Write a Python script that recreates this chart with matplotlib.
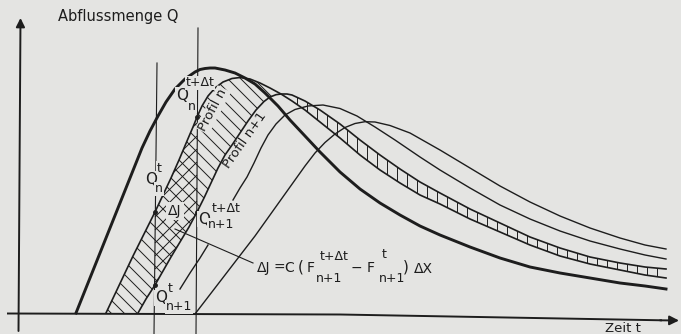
import numpy as np
import matplotlib
matplotlib.use("Agg")
import matplotlib.pyplot as plt
from matplotlib.patches import Polygon
from matplotlib.collections import LineCollection

# Wellenablauf zwischen Profilen: Ganglinien Q(t), Speicheraenderung dJ
# Zeit und Abfluss in Bildpunkten gemessen, Q = 0 auf der Zeitachse

# Profil n-1 (dicke Linie)
t_a = [76, 86, 96, 106, 116, 126, 134, 142, 150, 158, 166, 175, 185, 195, 200, 205, 210, 215, 225,
       235, 245, 255, 265, 278, 290, 305, 320, 340, 360, 380, 400, 420, 440, 470, 500, 530,
       560, 590, 620, 645, 666]
q_a = [1, 26, 51, 76, 101, 126, 146, 166, 183, 198, 212, 225, 235, 242, 244.5, 245.5, 246, 246,
       244, 241, 236, 230, 221, 208, 194, 178, 162, 142, 125, 111, 99, 88, 79, 67, 56, 47,
       41, 36, 31, 28, 25]

# Profil n
t_b = [106, 115, 124, 133, 142, 150, 155, 163, 171, 179, 187, 193, 197, 202, 208, 215, 223, 232,
       240, 250, 260, 270, 281, 292, 305, 320, 340, 360, 380, 400, 420, 440, 470, 500, 530,
       560, 590, 620, 645, 666]
q_b = [1, 20, 39, 58, 76, 92, 102, 119, 136, 154, 173, 187, 197, 208, 218, 226, 232, 235.5,
       236.5, 235, 231, 226, 220, 213, 204, 192, 176, 159, 144, 131, 119, 110, 95, 82, 69,
       58, 50, 44, 39, 36]

# Profil n+1
t_c = [138, 146, 155, 163, 171, 180, 189, 197, 204, 211, 218, 225, 232, 240, 248, 256, 264, 270,
       276, 281, 287, 292, 305, 320, 340, 360, 380, 400, 420, 440, 470, 500, 530, 560, 590,
       620, 645, 666]
q_c = [1, 15, 29, 43, 57, 72, 87, 102, 116, 131, 146, 159, 169, 181, 193, 204, 212.5, 217,
       219.3, 220, 220, 219, 213, 204, 190, 174, 159, 145, 132, 121, 105, 91, 77, 66, 57,
       51, 47, 45]

# Profil n+2
t_d = [165, 172, 180, 190, 200, 208, 216, 224, 233, 240, 247, 254, 261, 268, 276, 285, 295, 308,
       323, 340, 357, 375, 395, 420, 440, 470, 500, 530, 560, 590, 620, 645, 666]
q_d = [0, 12, 25, 41, 56, 69, 83, 98, 114, 126, 137, 151, 166, 179, 190, 199, 204.5, 208,
       209, 205.5, 198, 187, 174, 157, 144, 126, 109, 95, 83, 73, 65, 59, 55]

# Profil n+3
t_e = [195, 205, 215, 225, 235, 245, 255, 265, 275, 285, 295, 305, 315, 325, 335, 345, 355, 365,
       375, 390, 410, 440, 470, 500, 530, 560, 590, 620, 645, 666]
q_e = [0, 13, 26, 39, 52, 65, 78, 92, 106, 120, 134, 148, 161, 171.5, 180, 186.5, 190.5, 192.3,
       192, 188.5, 181, 164, 146, 128, 112, 98, 86, 76, 69, 65]

t_now = 155     # Zeitpunkt t
t_next = 197    # Zeitpunkt t + dt
t_cross = 281   # Schnitt der Ganglinien n und n+1

ink = "#1d1d1d"
bg = "#e4e4e2"

fig = plt.figure(figsize=(6.81, 3.34), dpi=100, facecolor=bg)
ax = fig.add_axes([0, 0, 1, 1])
ax.set_xlim(0, 681)
ax.set_ylim(-20, 314)
ax.axis("off")

t_a, q_a, t_b, q_b, t_c, q_c, t_d, q_d, t_e, q_e = map(
    np.array, (t_a, q_a, t_b, q_b, t_c, q_c, t_d, q_d, t_e, q_e))

# axes with arrows
ax.annotate("", xy=(20.5, 296), xytext=(18.5, -17),
            arrowprops=dict(arrowstyle="-|>", color=ink, lw=1.4, mutation_scale=13, shrinkA=0, shrinkB=0))
ax.plot([7, 340, 662], [0.5, -0.5, -6.3], color=ink, lw=1.4, solid_capstyle="butt")
ax.annotate("", xy=(679, -6.5), xytext=(660, -6.3),
            arrowprops=dict(arrowstyle="-|>", color=ink, lw=1.4, mutation_scale=14, shrinkA=0, shrinkB=0))

# time lines t and t+dt
ax.plot([157, 154], [251, -20], color=ink, lw=0.8)
ax.plot([198, 196], [286, -20], color=ink, lw=0.8)

# hatched band between profile n and n+1
rise = np.vstack([np.column_stack([t_b[t_b <= t_cross], q_b[t_b <= t_cross]]),
                  np.column_stack([t_c[t_c <= t_cross], q_c[t_c <= t_cross]])[::-1]])
fall = np.vstack([np.column_stack([t_c[t_c >= t_cross], q_c[t_c >= t_cross]]),
                  np.column_stack([t_b[t_b >= t_cross], q_b[t_b >= t_cross]])[::-1]])
rise_patch = Polygon(rise, closed=True, fc="none", ec="none")
fall_patch = Polygon(fall, closed=True, fc="none", ec="none")
ax.add_patch(rise_patch)
ax.add_patch(fall_patch)

step = 13
back = [[(t0 - 300, 300), (t0, 0)] for t0 in np.arange(60, 640, step)]
lc = LineCollection(back, colors=ink, lw=0.7)
ax.add_collection(lc)
lc.set_clip_path(rise_patch)

fwd = [[(t_now, t_now - t0), (t_next, t_next - t0)] for t0 in np.arange(-150, 200, step)]
lc = LineCollection(fwd, colors=ink, lw=0.7)
ax.add_collection(lc)
lc.set_clip_path(rise_patch)

vert = [[(x, -10), (x, 300)] for x in np.arange(297, 660, 10)]
lc = LineCollection(vert, colors=ink, lw=0.7)
ax.add_collection(lc)
lc.set_clip_path(fall_patch)

# hydrographs
ax.plot(t_a, q_a, color=ink, lw=2.1, solid_joinstyle="round")
ax.plot(t_b, q_b, color=ink, lw=1.2, solid_joinstyle="round")
ax.plot(t_c, q_c, color=ink, lw=1.2, solid_joinstyle="round")
d_hidden = (t_d < 180) | ((t_d > 208) & (t_d < 233))
ax.plot(t_d, np.ma.masked_where(d_hidden, q_d), color=ink, lw=1.0, solid_joinstyle="round")
ax.plot(t_e, q_e, color=ink, lw=1.0, solid_joinstyle="round")

# points Q at t and t+dt
rb = t_b <= 240
rc = t_c <= 281
for tt in (t_now, t_next):
    ax.plot([tt, tt], [np.interp(tt, t_b[rb], q_b[rb]), np.interp(tt, t_c[rc], q_c[rc])],
            "o", color=ink, ms=2.5, ls="none")

# texts
box = dict(fc=bg, ec="none", pad=0.6)


def txt(x, y, s, size=11, **kw):
    ax.text(x, y, s, fontsize=size, color=ink, ha="center", va="center", **kw)


ax.text(58, 297, "Abflussmenge Q", fontsize=10.5, color=ink, ha="left", va="center")
txt(623, -14, "Zeit t", 9.5)

txt(182, 219, "Q", bbox=box)
txt(200, 231, "t+Δt", 9, bbox=box)
txt(192, 208, "n", 9, bbox=box)

txt(151, 135, "Q", bbox=box)
txt(159.5, 146, "t", 9, bbox=box)
txt(159, 125, "n", 9, bbox=box)

txt(204, 95, "Q", bbox=box)
txt(226, 105, "t+Δt", 9, bbox=box)
txt(221, 89, "n+1", 9, bbox=box)

txt(161, 16, "Q", bbox=box)
txt(170, 26, "t", 9, bbox=box)
txt(179, 7, "n+1", 9, bbox=box)

txt(175, 103, "ΔJ", 10, bbox=dict(fc=bg, ec="none", pad=1.5))
ax.plot([175, 253], [85, 51], color=ink, lw=0.8)

txt(213, 204, "Profil n", 9.5, rotation=62, bbox=dict(fc=bg, ec="none", pad=0.8))
txt(245, 174, "Profil n+1", 9.5, rotation=55)

for s, x, y, size in [("ΔJ", 264, 46, 10), ("=", 279, 46, 10), ("C", 289, 46, 10),
                      ("(", 301, 47, 11), ("F", 311, 46, 10), ("t+Δt", 334, 58, 9),
                      ("n+1", 329, 36, 9), ("−", 356, 46, 10), ("F", 371, 46, 10),
                      ("t", 384.5, 59, 9), ("n+1", 392, 36, 9), (")", 405.5, 47, 11),
                      ("ΔX", 423, 45, 10)]:
    txt(x, y, s, size)

fig.savefig("out.png", dpi=100, facecolor=bg)
